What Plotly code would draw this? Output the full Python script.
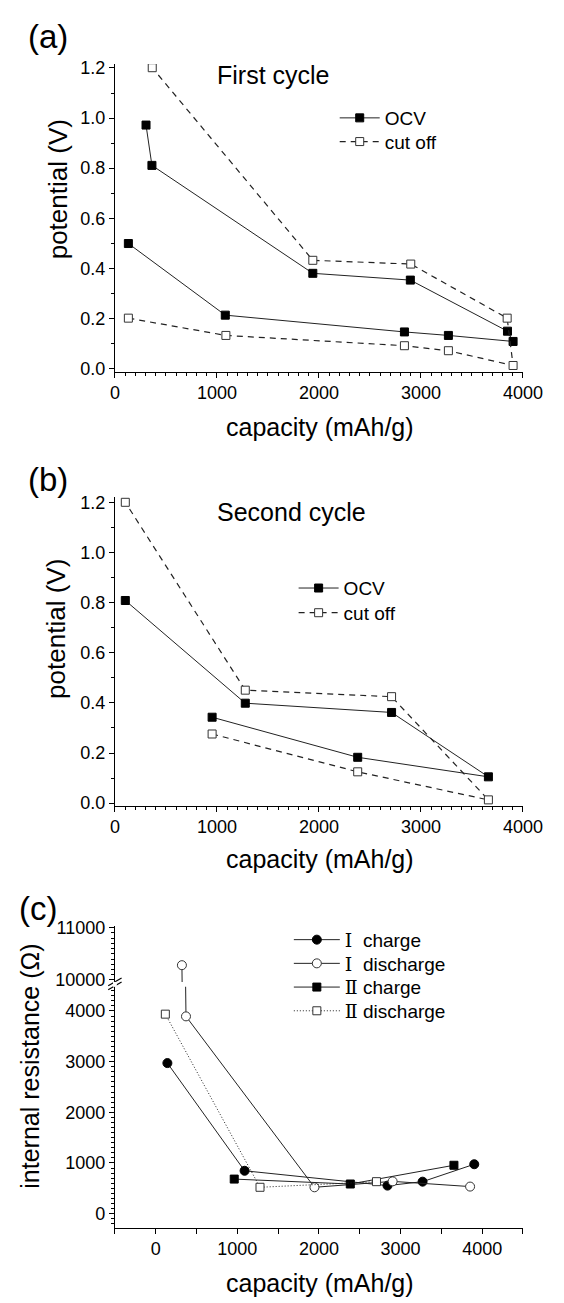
import plotly.graph_objects as go

# ---------------- data ----------------
# (a) first cycle
cap_a_ocv = [132, 1082, 2838, 3269, 3903, 3848, 2896, 1940, 363, 305]
pot_a_ocv = [0.499, 0.213, 0.146, 0.132, 0.108, 0.149, 0.353, 0.380, 0.811, 0.972]
cap_a_cut = [132, 1088, 2838, 3269, 3903, 3845, 2900, 1940, 366]
pot_a_cut = [0.201, 0.132, 0.091, 0.071, 0.012, 0.201, 0.417, 0.432, 1.201]

# (b) second cycle
cap_b_ocv = [953, 2380, 3661, 2712, 1278, 102]
pot_b_ocv = [0.343, 0.183, 0.105, 0.362, 0.399, 0.809]
cap_b_cut = [953, 2380, 3661, 2712, 1278, 102]
pot_b_cut = [0.276, 0.125, 0.013, 0.425, 0.451, 1.201]

# (c) internal resistance
cap_c_I_ch = [143, 1089, 2840, 3270, 3903]
res_c_I_ch = [2971, 846, 553, 631, 975]
cap_c_I_dis = [321, 371, 1945, 2903, 3852]
res_c_I_dis = [10282, 3893, 520, 637, 534]
cap_c_II_ch = [962, 2384, 3654]
res_c_II_ch = [682, 585, 955]
cap_c_II_dis = [118, 1278, 2705]
res_c_II_dis = [3937, 520, 631]

labels_ab = ["OCV", "cut off"]
SER = "<span style=\"font-family:'DejaVu Serif'\">%s</span>"
labels_c = [SER % "Ⅰ" + "  charge", SER % "Ⅰ" + "  discharge",
            SER % "Ⅱ" + " charge", SER % "Ⅱ" + " discharge"]

W, H = 564, 1303
FONT = "Liberation Sans, Arial, sans-serif"
LC = "#222222"


def px_x(p):
    return p / W


def px_y(p):
    return 1 - p / H


fig = go.Figure()

closed = dict(color="black", size=8, symbol="square", line=dict(color="black", width=1))
opened = dict(color="white", size=8, symbol="square", line=dict(color="#333333", width=1))
DASH = "6px,5px"

# (a)
fig.add_trace(go.Scatter(x=cap_a_ocv, y=pot_a_ocv, mode="lines+markers", name=labels_ab[0],
                         line=dict(color=LC, width=1), marker=closed,
                         xaxis="x", yaxis="y", legend="legend"))
fig.add_trace(go.Scatter(x=cap_a_cut, y=pot_a_cut, mode="lines+markers", name=labels_ab[1],
                         line=dict(color=LC, width=1.2, dash=DASH), marker=opened,
                         xaxis="x", yaxis="y", legend="legend2"))
# (b)
fig.add_trace(go.Scatter(x=cap_b_ocv, y=pot_b_ocv, mode="lines+markers", name=labels_ab[0],
                         line=dict(color=LC, width=1), marker=closed,
                         xaxis="x2", yaxis="y2", legend="legend3"))
fig.add_trace(go.Scatter(x=cap_b_cut, y=pot_b_cut, mode="lines+markers", name=labels_ab[1],
                         line=dict(color=LC, width=1.2, dash=DASH), marker=opened,
                         xaxis="x2", yaxis="y2", legend="legend4"))

# (c) - drawn on lower and upper (broken) axes
c_series = [
    (cap_c_I_ch, res_c_I_ch, labels_c[0], "solid",
     dict(color="black", size=9, symbol="circle", line=dict(color="black", width=1))),
    (cap_c_I_dis, res_c_I_dis, labels_c[1], "solid",
     dict(color="white", size=9, symbol="circle", line=dict(color="#333333", width=1))),
    (cap_c_II_ch, res_c_II_ch, labels_c[2], "solid",
     dict(color="black", size=8, symbol="square", line=dict(color="black", width=1))),
    (cap_c_II_dis, res_c_II_dis, labels_c[3], "1px,2px",
     dict(color="white", size=8, symbol="square", line=dict(color="#333333", width=1))),
]
for i, (xs, ys, nm, dash, mk) in enumerate(c_series):
    fig.add_trace(go.Scatter(x=xs, y=ys, mode="lines+markers", name=nm,
                             line=dict(color=LC, width=1, dash=dash), marker=mk,
                             xaxis="x3", yaxis="y3", legend="legend%d" % (5 + i)))
    fig.add_trace(go.Scatter(x=xs, y=ys, mode="lines+markers", name=nm, showlegend=False,
                             line=dict(color=LC, width=1, dash=dash), marker=mk,
                             xaxis="x3", yaxis="y4"))

axis_common = dict(showline=True, linecolor="black", linewidth=1, ticks="outside",
                   ticklen=5, tickcolor="black", tickwidth=1, showgrid=False, zeroline=False,
                   tickfont=dict(size=18, color="black", family=FONT))
xdom = [px_x(115), px_x(542)]

fig.update_layout(
    width=W, height=H, margin=dict(l=0, r=0, t=0, b=0),
    paper_bgcolor="white", plot_bgcolor="white",
    font=dict(family=FONT, color="black"),
    xaxis=dict(**axis_common, domain=xdom, range=[0, 4000], anchor="y", dtick=1000, tickformat="d",
               minor=dict(dtick=100, ticklen=3, ticks="outside", tickcolor="black")),
    yaxis=dict(**axis_common, domain=[px_y(368.3), px_y(56.7)], range=[-0.0131, 1.2158], anchor="x",
               dtick=0.2, tick0=0, tickformat=".1f",
               minor=dict(dtick=0.1, ticklen=3, ticks="outside", tickcolor="black")),
    xaxis2=dict(**axis_common, domain=xdom, range=[0, 4000], anchor="y2", dtick=1000, tickformat="d",
                minor=dict(dtick=100, ticklen=3, ticks="outside", tickcolor="black")),
    yaxis2=dict(**axis_common, domain=[px_y(807.7), px_y(495)], range=[-0.0106, 1.2225], anchor="x2",
                dtick=0.2, tick0=0, tickformat=".1f",
                minor=dict(dtick=0.1, ticklen=3, ticks="outside", tickcolor="black")),
    xaxis3=dict(**axis_common, domain=xdom, range=[-500, 4500], anchor="y3", dtick=1000, tick0=0,
                tickformat="d",
                minor=dict(dtick=500, tick0=0, ticklen=5, ticks="outside", tickcolor="black")),
    yaxis3=dict(**axis_common, domain=[px_y(1235), px_y(991)], range=[-280, 4476], anchor="x3",
                dtick=1000, tick0=0, tickformat="d",
                minor=dict(dtick=100, tick0=0, ticklen=3, ticks="outside", tickcolor="black")),
    yaxis4=dict(**axis_common, domain=[px_y(986), px_y(929)], range=[9962, 11040], anchor="x3",
                tickvals=[10000, 11000], tickformat="d",
                minor=dict(dtick=100, tick0=0, ticklen=3, ticks="outside", tickcolor="black")),
    showlegend=True,
)

LEG_FS = 19
ROW_OFF = (max(1.3 * LEG_FS, 16) + 3) / 2 + 5   # legend top -> first row centre


def leg(x_origin, y_center, iw):
    return dict(bgcolor="rgba(0,0,0,0)", borderwidth=0, xanchor="left", yanchor="top",
                font=dict(size=LEG_FS, color="black", family=FONT), itemwidth=iw,
                x=px_x(x_origin), y=px_y(y_center - ROW_OFF))


fig.update_layout(
    legend=leg(345, 111, 40), legend2=leg(345, 135, 40),
    legend3=leg(302, 587, 40), legend4=leg(302, 612, 40),
    legend5=leg(297, 943, 46), legend6=leg(297, 967, 46),
    legend7=leg(297, 991, 46), legend8=leg(297, 1015, 46),
)

ann = []


def add_text(text, x, y, size, xanchor="center", yanchor="middle", angle=0):
    ann.append(dict(text=text, x=px_x(x), y=px_y(y), xref="paper", yref="paper",
                    showarrow=False, xanchor=xanchor, yanchor=yanchor, textangle=angle,
                    font=dict(size=size, color="black", family=FONT)))


add_text("(a)", 45, 29, 33)
add_text("(b)", 45, 477, 33)
add_text("(c)", 35, 912, 33)
add_text("First cycle", 220, 68, 25, xanchor="left")
add_text("Second cycle", 220, 510, 25, xanchor="left")
add_text("capacity (mAh/g)", 330, 424, 25)
add_text("capacity (mAh/g)", 330, 862, 25)
add_text("capacity (mAh/g)", 330, 1291, 25)
add_text("potential (V)", 55, 184, 26, angle=-90)
add_text("potential (V)", 54, 629, 26, angle=-90)
add_text("internal resistance (Ω)", 26, 1071, 25, angle=-90)
fig.update_layout(annotations=ann)

# axis-break marks on the (c) y axis
for dy in (0, 4):
    fig.add_shape(type="line", xref="paper", yref="paper",
                  x0=px_x(108), y0=px_y(990 + dy), x1=px_x(122), y1=px_y(982 + dy),
                  line=dict(color="black", width=1.2))
fig.add_shape(type="rect", xref="paper", yref="paper",
              x0=px_x(113), y0=px_y(991), x1=px_x(117), y1=px_y(986),
              line=dict(width=0), fillcolor="white", layer="above")

fig.write_html("out.html")
